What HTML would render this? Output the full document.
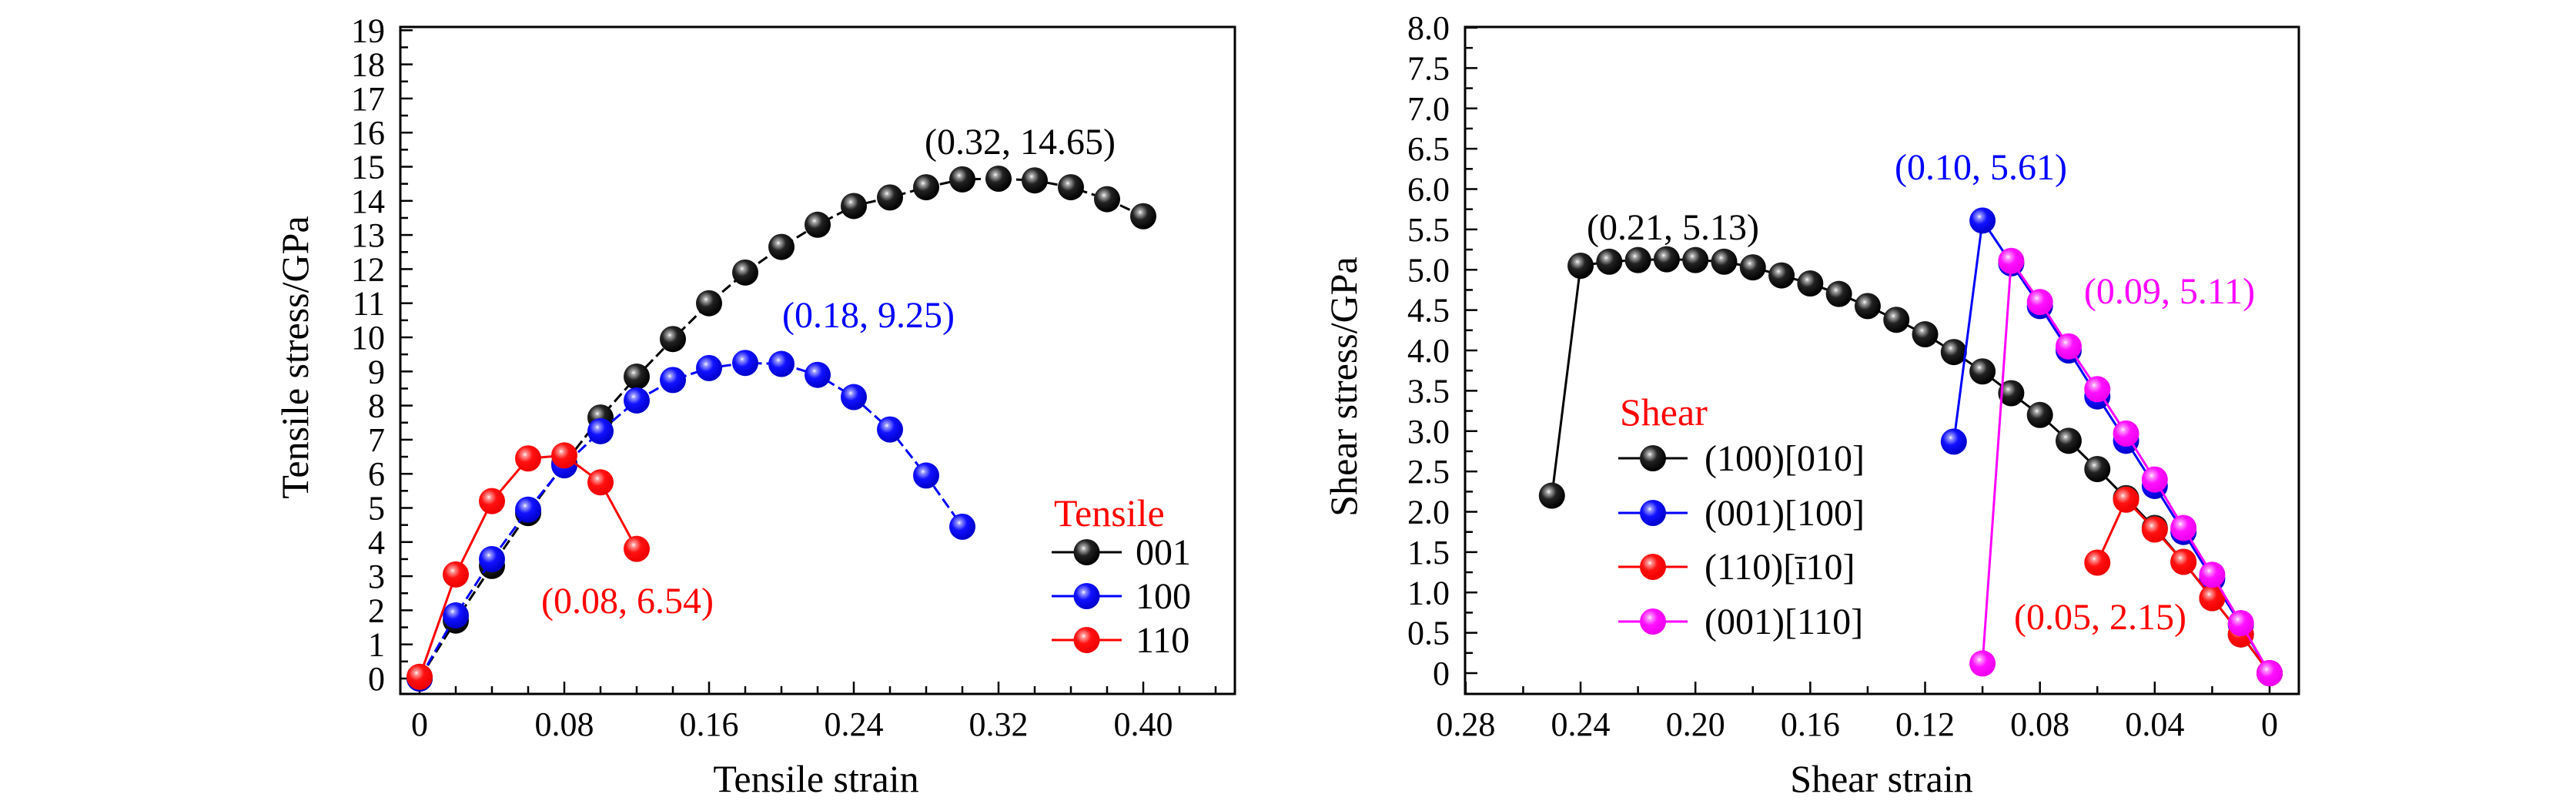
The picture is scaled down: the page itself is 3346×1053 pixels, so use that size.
<!DOCTYPE html>
<html><head><meta charset="utf-8"><style>
html,body{margin:0;padding:0;background:#fff;}
svg{display:block;}
svg text{font-family:"Liberation Serif","DejaVu Serif",serif;}
</style></head><body>
<svg id="chart" width="3346" height="1053" viewBox="0 0 3346 1053" xmlns="http://www.w3.org/2000/svg" font-family="Liberation Serif, DejaVu Serif, serif">
<defs>
<radialGradient id="gk" cx="0.38" cy="0.35" r="0.65"><stop offset="0" stop-color="#fff"/><stop offset="0.12" stop-color="#aaa"/><stop offset="0.45" stop-color="#222"/><stop offset="1" stop-color="#000"/></radialGradient>
<radialGradient id="gb" cx="0.38" cy="0.35" r="0.65"><stop offset="0" stop-color="#fff"/><stop offset="0.12" stop-color="#99f"/><stop offset="0.45" stop-color="#11f"/><stop offset="1" stop-color="#00c"/></radialGradient>
<radialGradient id="gr" cx="0.38" cy="0.35" r="0.65"><stop offset="0" stop-color="#fff"/><stop offset="0.12" stop-color="#f99"/><stop offset="0.45" stop-color="#f11"/><stop offset="1" stop-color="#e00"/></radialGradient>
<radialGradient id="gm" cx="0.38" cy="0.35" r="0.65"><stop offset="0" stop-color="#fff"/><stop offset="0.12" stop-color="#f9f"/><stop offset="0.45" stop-color="#f1f"/><stop offset="1" stop-color="#e0e"/></radialGradient>
</defs>
</svg>
<script>
// ---- Left chart data ----
const tX001 = [0,0.02,0.04,0.06,0.08,0.10,0.12,0.14,0.16,0.18,0.20,0.22,0.24,0.26,0.28,0.30,0.32,0.34,0.36,0.38,0.40];
const tY001 = [0,1.7,3.3,4.85,6.3,7.65,8.85,9.95,11.0,11.9,12.65,13.3,13.85,14.1,14.4,14.63,14.65,14.6,14.4,14.05,13.55];
const tX100 = [0,0.02,0.04,0.06,0.08,0.10,0.12,0.14,0.16,0.18,0.20,0.22,0.24,0.26,0.28,0.30];
const tY100 = [0,1.85,3.5,4.95,6.25,7.25,8.15,8.75,9.1,9.25,9.22,8.9,8.25,7.3,5.95,4.45];
const tX110 = [0,0.02,0.04,0.06,0.08,0.10,0.12];
const tY110 = [0.05,3.05,5.2,6.45,6.54,5.75,3.8];
const tXTicks = ["0","0.08","0.16","0.24","0.32","0.40"];
// ---- Right chart data ----
const sXk = [0.25,0.24,0.23,0.22,0.21,0.20,0.19,0.18,0.17,0.16,0.15,0.14,0.13,0.12,0.11,0.10,0.09,0.08,0.07,0.06,0.05,0.04,0.03,0.02,0.01,0];
const sYk = [2.2,5.05,5.1,5.12,5.13,5.12,5.1,5.03,4.93,4.83,4.7,4.55,4.38,4.2,3.98,3.74,3.47,3.2,2.88,2.53,2.17,1.8,1.38,0.93,0.48,0];
const sXb = [0.11,0.10,0.09,0.08,0.07,0.06,0.05,0.04,0.03,0.02,0.01,0];
const sYb = [2.87,5.61,5.08,4.55,4.0,3.43,2.88,2.32,1.75,1.17,0.6,0];
const sXr = [0.06,0.05,0.04,0.03,0.02,0.01,0];
const sYr = [1.37,2.15,1.78,1.38,0.93,0.48,0];
const sXm = [0.10,0.09,0.08,0.07,0.06,0.05,0.04,0.03,0.02,0.01,0];
const sYm = [0.12,5.11,4.6,4.05,3.52,2.97,2.4,1.8,1.22,0.62,0];
const sXTicks = ["0.28","0.24","0.20","0.16","0.12","0.08","0.04","0"];
const sYTicks = ["0","0.5","1.0","1.5","2.0","2.5","3.0","3.5","4.0","4.5","5.0","5.5","6.0","6.5","7.0","7.5","8.0"];

const svg = document.getElementById('chart');
const NS = 'http://www.w3.org/2000/svg';
const FF = '"Liberation Serif", "DejaVu Serif", serif';
function mk(tag, attrs, parent){const e=document.createElementNS(NS,tag);for(const k in attrs)e.setAttribute(k,attrs[k]);(parent||svg).appendChild(e);return e;}
function txt(s, attrs, parent){attrs['font-family']=FF;const e=mk('text',attrs,parent);e.textContent=s;return e;}

const lx = v => 545 + v*2350;
const ly = v => 881 - v*44.3;
const rx = v => 2948 - v*3729;
const ry = v => 874 - v*104.75;

function frame(x0,y0,x1,y1,name){
  const r=mk('rect',{x:x0,y:y0,width:x1-x0,height:y1-y0,fill:'none',stroke:'#000','stroke-width':3});
  
  
}
frame(520,35,1604,901,'left-plot-frame');
frame(1903,35,2986,901,'right-plot-frame');

const gLA = mk('g',{});


for(let i=0;i<=22;i++){const v=i*0.02;const X=lx(v);if(X>1600)break;const major=(i%4===0);
  mk('line',{x1:X,y1:901,x2:X,y2:901-(major?16:10),stroke:'#000','stroke-width':2.5},gLA);}
tXTicks.forEach(s=>{const t=txt(s,{x:lx(parseFloat(s)),y:955,'font-size':44,'text-anchor':'middle'},gLA);
  });
for(let i=0;i<=38;i++){const v=i*0.5;const Y=ly(v);const major=(i%2===0);
  mk('line',{x1:520,y1:Y,x2:520+(major?16:10),y2:Y,stroke:'#000','stroke-width':2.5},gLA);
  if(major){const t=txt(String(v),{x:500,y:Y+15,'font-size':44,'text-anchor':'end'},gLA);
    }}
let t;
t=txt('Tensile strain',{x:1060,y:1028,'font-size':50,'text-anchor':'middle'});

t=txt('Tensile stress/GPa',{x:0,y:0,'font-size':50,'text-anchor':'middle',transform:'translate(400,464) rotate(-90)'});


const gRA = mk('g',{});


for(let i=0;i<=14;i++){const v=i*0.02;const X=rx(v);const major=(i%2===0);
  mk('line',{x1:X,y1:901,x2:X,y2:901-(major?16:10),stroke:'#000','stroke-width':2.5},gRA);}
sXTicks.forEach(s=>{const t=txt(s,{x:rx(parseFloat(s)),y:955,'font-size':44,'text-anchor':'middle'},gRA);
  });
for(let i=0;i<=32;i++){const v=i*0.25;const Y=ry(v);const major=(i%2===0);
  mk('line',{x1:1903,y1:Y,x2:1903+(major?16:10),y2:Y,stroke:'#000','stroke-width':2.5},gRA);}
sYTicks.forEach(s=>{const t=txt(s,{x:1883,y:ry(parseFloat(s))+15,'font-size':44,'text-anchor':'end'},gRA);
  });
t=txt('Shear strain',{x:2444,y:1028,'font-size':50,'text-anchor':'middle'});

t=txt('Shear stress/GPa',{x:0,y:0,'font-size':50,'text-anchor':'middle',transform:'translate(1762,502) rotate(-90)'});


function series(xs,ys,fx,fy,color,grad,dash,name){
  const g=mk('g',{});
  
  
  const pts=xs.map((x,i)=>fx(x)+','+fy(ys[i])).join(' ');
  const a={points:pts,fill:'none',stroke:color,'stroke-width':3};
  if(dash)a['stroke-dasharray']=dash;
  mk('polyline',a,g);
  xs.forEach((x,i)=>{const c=mk('circle',{cx:fx(x),cy:fy(ys[i]),r:17,fill:'url(#'+grad+')'},g);
    
    });
}
series(tX001,tY001,lx,ly,'#000','gk','14 6','series-001');
series(tX100,tY100,lx,ly,'#00f','gb','14 6','series-100');
series(tX110,tY110,lx,ly,'#f00','gr',null,'series-110');
series(sXk,sYk,rx,ry,'#000','gk',null,'series-100-010');
series(sXb,sYb,rx,ry,'#00f','gb',null,'series-001-100');
series(sXr,sYr,rx,ry,'#f00','gr',null,'series-110-m110');
series(sXm,sYm,rx,ry,'#f0f','gm',null,'series-001-110');

function ann(s,x,y,color){const e=txt(s,{x:x,y:y,'font-size':48,fill:color,'text-anchor':'middle'});
  }
ann('(0.32, 14.65)',1325,200,'#000');
ann('(0.18, 9.25)',1128,425,'#00f');
ann('(0.08, 6.54)',815,796,'#f00');
ann('(0.21, 5.13)',2173,311,'#000');
ann('(0.10, 5.61)',2573,233,'#00f');
ann('(0.09, 5.11)',2818,394,'#f0f');
ann('(0.05, 2.15)',2728,817,'#f00');

function legend(title,tx,ty,items,lx0,lx1,textX,name){
  const g=mk('g',{});
  
  
  const h=txt(title,{x:tx,y:ty+16,'font-size':50,fill:'#f00'},g);
  
  items.forEach(it=>{
    const e=mk('g',{},g);
    
    
    mk('line',{x1:lx0,y1:it[1],x2:lx1,y2:it[1],stroke:it[2],'stroke-width':3},e);
    mk('circle',{cx:(lx0+lx1)/2,cy:it[1],r:17,fill:'url(#'+it[3]+')'},e);
    txt(it[0],{x:textX,y:it[1]+16,'font-size':48},e);
  });
}
legend('Tensile',1369,667,[['001',717,'#000','gk'],['100',774,'#00f','gb'],['110',831,'#f00','gr']],1366,1457,1475,'tensile-legend');
legend('Shear',2104,536,[['(100)[010]',595,'#000','gk'],['(001)[100]',666,'#00f','gb'],['(110)[\u012B10]',736,'#f00','gr'],['(001)[110]',807,'#f0f','gm']],2102,2192,2214,'shear-legend');
</script>
</body></html>
